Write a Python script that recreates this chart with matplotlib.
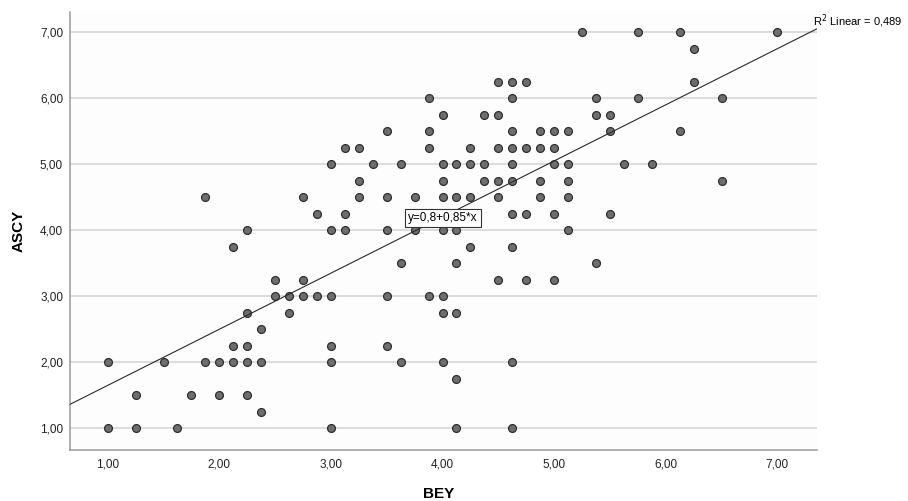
import numpy as np
import matplotlib
matplotlib.use("Agg")
import matplotlib.pyplot as plt

# scatter data, grouped by ASCY level
ascy_levels = [7.0, 6.75, 6.25, 6.0, 5.75, 5.5, 5.25, 5.0, 4.75, 4.5, 4.25, 4.0,
               3.75, 3.5, 3.25, 3.0, 2.75, 2.5, 2.25, 2.0, 1.75, 1.5, 1.25, 1.0]
bey_by_level = [
    [5.25, 5.75, 6.125, 7.0],
    [6.25],
    [4.5, 4.625, 4.75, 6.25],
    [3.875, 4.625, 5.375, 5.75, 6.5],
    [4.0, 4.375, 4.5, 5.375, 5.5],
    [3.5, 3.875, 4.625, 4.875, 5.0, 5.125, 5.5, 6.125],
    [3.125, 3.25, 3.875, 4.25, 4.5, 4.625, 4.75, 4.875, 5.0],
    [3.0, 3.375, 3.625, 4.0, 4.125, 4.25, 4.375, 4.625, 5.0, 5.125, 5.625, 5.875],
    [3.25, 4.0, 4.375, 4.5, 4.625, 4.875, 5.125, 6.5],
    [1.875, 2.75, 3.25, 3.5, 3.75, 4.0, 4.125, 4.25, 4.5, 4.875, 5.125],
    [2.875, 3.125, 4.625, 4.75, 5.0, 5.5],
    [2.25, 3.0, 3.125, 3.5, 3.75, 4.0, 4.125, 5.125],
    [2.125, 4.25, 4.625],
    [3.625, 4.125, 5.375],
    [2.5, 2.75, 4.5, 4.75, 5.0],
    [2.5, 2.625, 2.75, 2.875, 3.0, 3.5, 3.875, 4.0],
    [2.25, 2.625, 4.0, 4.125],
    [2.375],
    [2.125, 2.25, 3.0, 3.5],
    [1.0, 1.5, 1.875, 2.0, 2.125, 2.25, 2.375, 3.0, 3.625, 4.0, 4.625],
    [4.125],
    [1.25, 1.75, 2.0, 2.25],
    [2.375],
    [1.0, 1.25, 1.625, 3.0, 4.125, 4.625],
]

# fit line as printed on the chart
intercept = 0.8
slope = 0.85
r_squared = "0,489"

tick_values = [1, 2, 3, 4, 5, 6, 7]
tick_labels = ["1,00", "2,00", "3,00", "4,00", "5,00", "6,00", "7,00"]

#==================================================================================================================

bey = []
ascy = []
for level, xs in zip(ascy_levels, bey_by_level):
    bey.extend(xs)
    ascy.extend([level] * len(xs))

plt.rcParams['font.family'] = ['Liberation Sans', 'DejaVu Sans']

fig = plt.figure(figsize=(9.08, 5.01), dpi=100)
ax = fig.add_axes([0.0771, 0.1018, 0.8224, 0.8748])
ax.set_facecolor("#fdfdfd")

xlim = (0.662, 7.353)
ylim = (0.671, 7.31)
ax.set_xlim(*xlim)
ax.set_ylim(*ylim)

ax.set_yticks(tick_values)
ax.set_yticklabels(tick_labels, fontsize=8.5)
ax.set_xticks(tick_values)
ax.set_xticklabels(tick_labels, fontsize=8.5)
ax.tick_params(axis="y", length=0, pad=5, colors="#222222")
ax.tick_params(axis="x", length=0, pad=6, colors="#222222")
ax.grid(axis="y", color="#d2d2d2", linewidth=1.1)
ax.set_axisbelow(True)

for side in ["top", "right"]:
    ax.spines[side].set_visible(False)
for side in ["left", "bottom"]:
    ax.spines[side].set_color("#9a9a9a")
    ax.spines[side].set_linewidth(1.1)

ax.scatter(bey, ascy, s=32, color="#6e6e6e", edgecolors="#2e2e2e", linewidths=0.9, zorder=3)

line_x = np.array(xlim)
ax.plot(line_x, intercept + slope * line_x, color="#2a2a2a", linewidth=0.8, zorder=4)

ax.text(4.004, 4.19, "y=0,8+0,85*x", fontsize=8.5, ha="center", va="center", zorder=5,
        bbox=dict(boxstyle="square,pad=0.25", facecolor="white", edgecolor="#333333", linewidth=0.8))

ax.text(xlim[1] - 0.035, intercept + slope * xlim[1] - 0.02, f"R$^2$ Linear = {r_squared}",
        fontsize=8, ha="left", va="bottom", clip_on=False)

ax.set_xlabel("BEY", fontsize=11, fontweight="bold")
ax.set_ylabel("ASCY", fontsize=11, fontweight="bold")
ax.xaxis.set_label_coords(0.493, -0.085)
ax.yaxis.set_label_coords(-0.059, 0.5)

fig.savefig("out.png", dpi=100)
